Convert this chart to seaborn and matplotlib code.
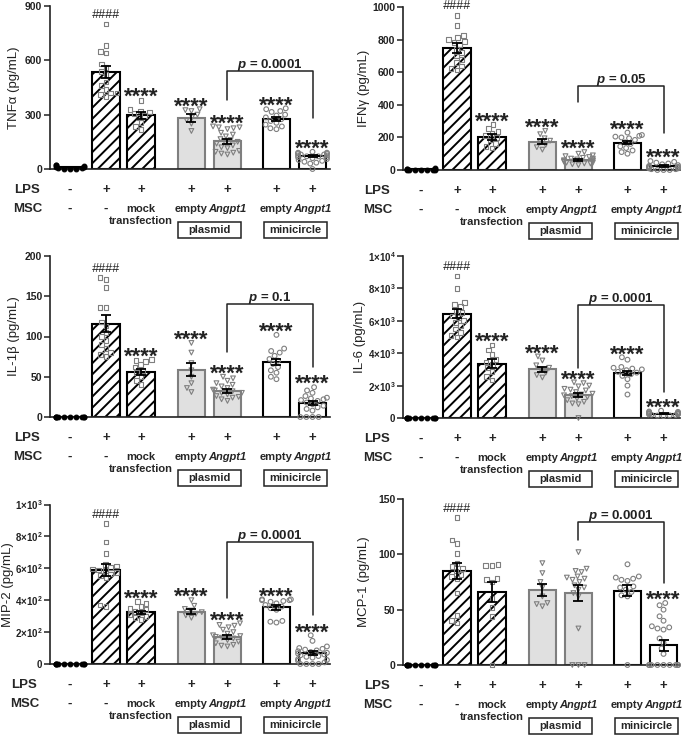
import numpy as np
import pandas as pd
import matplotlib
matplotlib.use("Agg")
import matplotlib.pyplot as plt
import matplotlib.transforms as mtransforms
from matplotlib.patches import Rectangle
import seaborn as sns

# groups: control, LPS, mock, plasmid empty/Angpt1, minicircle empty/Angpt1
group_pos = [0, 1.03, 2.03, 3.47, 4.5, 5.9, 6.93]
lps_labels = ['-', '+', '+', '+', '+', '+', '+']
msc_labels = ['-', '-', 'mock', 'empty', 'Angpt1', 'empty', 'Angpt1']
sig_main = ['', '####', '****', '****', '****', '****', '****']
sig_mcp1 = ['', '####', '', '', '', '', '****']

# TNFa
tnf_mean = [9, 533, 296, 281, 152, 276, 70]
tnf_sem = [0, 33, 20, 20, 12, 10, 6]
tnf_pts = [
    [20, 15, 10, 5, 2, 0, 2, 6, 12, 20],
    [800, 680, 650, 640, 580, 560, 540, 520, 480, 460, 440, 420, 420, 410, 400],
    [380, 330, 320, 315, 305, 295, 285, 255, 235, 220],
    [330, 325, 320, 300, 285, 270, 250, 210],
    [235, 230, 230, 225, 220, 200, 190, 180, 165, 160, 150, 145, 140, 130, 120, 115, 100, 95, 90, 85, 80],
    [335, 330, 320, 315, 300, 295, 285, 275, 265, 255, 245, 235, 225, 220],
    [95, 90, 90, 85, 85, 80, 80, 75, 75, 70, 70, 65, 65, 60, 55, 50, 45, 40, 35, 30, 0],
]

# IFNg
ifn_mean = [4, 748, 201, 174, 61, 168, 25]
ifn_sem = [0, 30, 18, 15, 5, 10, 4]
ifn_pts = [
    [10, 5, 3, 0, 0, 0, 0, 0, 3, 5, 8],
    [950, 890, 825, 815, 800, 790, 785, 770, 740, 720, 700, 680, 660, 640, 625, 615],
    [280, 255, 235, 225, 210, 200, 185, 165, 145, 135],
    [240, 220, 195, 180, 170, 155, 140, 125],
    [110, 100, 90, 85, 80, 75, 70, 70, 65, 60, 60, 55, 55, 50, 45, 45, 40, 40, 35, 30],
    [230, 215, 210, 205, 200, 195, 185, 170, 160, 145, 135, 120, 110, 100],
    [55, 50, 45, 40, 35, 30, 25, 20, 20, 15, 15, 10, 10, 5, 5, 0, 0, 0],
]

# IL-1b
il1b_mean = [0, 116, 56, 59, 32, 68, 17]
il1b_sem = [0, 11, 4, 8, 2.5, 4, 2.5]
il1b_pts = [
    [0, 0, 0, 0, 0, 0, 0, 0, 0, 0],
    [173, 171, 161, 136, 136, 118, 113, 105, 100, 95, 90, 85, 80, 78, 75],
    [71, 70, 69, 65, 62, 58, 55, 50, 45, 40],
    [92, 80, 67, 58, 50, 42, 36, 31],
    [50, 48, 45, 42, 40, 38, 36, 34, 33, 32, 30, 30, 28, 26, 25, 24, 22, 20],
    [102, 85, 82, 80, 76, 72, 70, 66, 62, 58, 55, 50, 47],
    [37, 33, 30, 26, 24, 23, 22, 21, 20, 18, 16, 14, 12, 10, 8, 0, 0, 0, 0],
]

# IL-6
il6_mean = [0, 6450, 3360, 3010, 1440, 2780, 270]
il6_sem = [0, 300, 300, 150, 130, 150, 30]
il6_pts = [
    [0, 0, 0, 0, 0, 0, 0, 0, 0, 0],
    [8760, 8000, 7140, 7000, 6870, 6600, 6500, 6300, 6200, 6000, 5900, 5700, 5500, 5300, 5100, 5000],
    [4500, 4200, 3900, 3600, 3450, 3300, 3100, 2850, 2550, 2350],
    [3800, 3550, 3250, 3100, 3000, 2800, 2650, 2500],
    [2200, 2150, 2000, 1950, 1800, 1750, 1700, 1600, 1500, 1450, 1400, 1350, 1300, 1200, 1100, 1000, 900, 850, 0],
    [3750, 3600, 3150, 3100, 3050, 3000, 2950, 2850, 2800, 2700, 2600, 2400, 2000, 1450],
    [450, 400, 380, 350, 330, 300, 280, 260, 250, 230, 220, 200, 180, 160, 150, 120],
]

# MIP-2
mip2_mean = [0, 590, 323, 327, 169, 356, 69]
mip2_sem = [0, 37, 12, 15, 12, 15, 12]
mip2_pts = [
    [0, 0, 0, 0, 0, 0, 0, 0, 0, 0],
    [880, 765, 695, 625, 615, 605, 595, 590, 585, 575, 565, 555, 540, 370, 360],
    [390, 380, 360, 350, 340, 330, 320, 310, 300, 290, 280],
    [400, 365, 345, 335, 325, 315, 305, 290],
    [255, 245, 240, 230, 215, 200, 190, 180, 175, 170, 165, 160, 150, 140, 130, 120, 115, 110],
    [405, 405, 400, 400, 395, 390, 380, 370, 360, 350, 340, 270, 265, 260],
    [180, 145, 110, 100, 95, 90, 85, 80, 75, 70, 65, 60, 55, 50, 45, 40, 30, 25, 20, 10, 0, 0, 0, 0],
]

# MCP-1
mcp1_mean = [0, 85, 66, 68, 65, 67, 18]
mcp1_sem = [0, 7, 9, 5.5, 7, 5, 5]
mcp1_pts = [
    [0, 0, 0, 0, 0, 0, 0, 0, 0, 0],
    [133, 113, 110, 101, 92, 89, 87, 85, 82, 80, 78, 65, 45, 40, 38],
    [91, 90, 90, 78, 77, 75, 60, 52, 44, 0],
    [92, 83, 75, 70, 62, 56, 55, 53],
    [102, 87, 85, 84, 80, 79, 78, 77, 75, 72, 70, 68, 65, 62, 33, 0, 0, 0],
    [91, 80, 79, 78, 77, 76, 71, 70, 68, 66, 63, 62, 0],
    [56, 54, 50, 44, 40, 35, 34, 33, 32, 24, 20, 15, 10, 0, 0, 0, 0, 0, 0, 0, 0, 0],
]

sns.set_style('ticks')
plt.rcParams['font.family'] = ['Liberation Sans', 'DejaVu Sans']
plt.rcParams['font.weight'] = 'bold'
plt.rcParams['mathtext.fontset'] = 'custom'
plt.rcParams['mathtext.rm'] = 'Liberation Sans:bold'
plt.rcParams['mathtext.it'] = 'Liberation Sans:italic:bold'
plt.rcParams['hatch.linewidth'] = 1.4
plt.rcParams['hatch.color'] = 'black'

INK = '#222222'
GRAY = '#7f7f7f'

fig = plt.figure(figsize=(6.85, 7.36), dpi=100)


def add_ax(left, top, right, bottom):
    # pixel box -> figure fraction
    return fig.add_axes([left / 685, 1 - bottom / 736, (right - left) / 685, (bottom - top) / 736])


def off(base, dx=0, dy=0):
    return mtransforms.offset_copy(base, fig=fig, x=dx, y=dy, units='dots')


def draw_panel(ax, pts, means, sems, ylabel, yticks, yticklabels, sig, pval, bracket, xlim,
               lx, ylx, tick_fs=7.5):
    bars = pd.DataFrame({'pos': group_pos, 'mean': means})
    sns.barplot(data=bars, x='pos', y='mean', native_scale=True, width=0.78,
                errorbar=None, color='white', ax=ax)
    styles = [('black', 'black', ''), ('white', 'black', '///'), ('white', 'black', '///'),
              ('#e0e0e0', GRAY, ''), ('#e0e0e0', GRAY, ''), ('white', 'black', ''), ('white', 'black', '')]
    for patch, (fc, ec, hatch) in zip(ax.patches[:7], styles):
        patch.set_facecolor(fc)
        patch.set_edgecolor(ec)
        patch.set_hatch(hatch)
        patch.set_linewidth(1.5)

    marker_sets = [([0], 'o', 'black', 'black'), ([1, 2], 's', 'none', GRAY),
                   ([3, 4], 'v', 'none', GRAY), ([5, 6], 'o', 'none', GRAY)]
    for idx, marker, fc, ec in marker_sets:
        df = pd.DataFrame({
            'pos': np.repeat([group_pos[i] for i in idx], [len(pts[i]) for i in idx]),
            'val': np.concatenate([pts[i] for i in idx]).astype(float),
        })
        sns.swarmplot(data=df, x='pos', y='val', native_scale=True, marker=marker, size=3.4,
                      color=ec, facecolor=fc, edgecolor=ec, linewidth=0.8, ax=ax,
                      zorder=3, clip_on=False, warn_thresh=1.0)

    for i in range(1, 7):
        ax.errorbar(group_pos[i], means[i], yerr=sems[i], fmt='none', ecolor='black',
                    elinewidth=1.3, capsize=3.5, capthick=1.3, zorder=5)

    for i, s in enumerate(sig):
        if not s:
            continue
        top = max(pts[i])
        if s.startswith('#'):
            ax.text(group_pos[i], top, s, transform=off(ax.transData, 0, 6), ha='center',
                    va='baseline', fontsize=9, fontweight='normal', fontstyle='italic', color=INK)
        else:
            ax.text(group_pos[i], top, s, transform=off(ax.transData, 0, -3), ha='center',
                    va='baseline', fontsize=16, color=INK)

    b_top, b_left, b_right = bracket
    x4, x6 = group_pos[4], group_pos[6]
    ax.plot([x4, x4, x6, x6], [b_left, b_top, b_top, b_right], color=INK, lw=1.1, clip_on=False)
    ax.text((x4 + x6) / 2, b_top, r'$\mathit{p}$ = ' + pval, transform=off(ax.transData, 0, 3),
            ha='center', va='baseline', fontsize=9.5, color=INK)

    ax.set_xlim(*xlim)
    ax.set_ylim(0, yticks[-1])
    ax.set_yticks(yticks)
    ax.set_yticklabels(yticklabels)
    ax.set_xticks([])
    ax.set_xlabel('')
    ax.set_ylabel(ylabel, fontsize=9.5, color=INK)
    axw = ax.bbox.width
    axh = ax.bbox.height
    ax.yaxis.set_label_coords(ylx / axw, 0.5)
    sns.despine(ax=ax)
    for s in ['left', 'bottom']:
        ax.spines[s].set_color(INK)
        ax.spines[s].set_linewidth(1.2)
    ax.tick_params(axis='y', length=4, width=1.1, color=INK, labelsize=tick_fs, pad=1.5, labelcolor=INK)

    below = mtransforms.blended_transform_factory(ax.transData, ax.transAxes)
    ax.text(0, 0, 'LPS', transform=off(ax.transAxes, lx + 1, -21), ha='left', va='center', fontsize=9.5)
    ax.text(0, 0, 'MSC', transform=off(ax.transAxes, lx, -40), ha='left', va='center', fontsize=9.5)
    for x, l, m in zip(group_pos, lps_labels, msc_labels):
        ax.text(x, 0, l, transform=off(below, 0, -21), ha='center', va='center', fontsize=9.5)
        if m == '-':
            ax.text(x, 0, m, transform=off(below, 0, -40), ha='center', va='center', fontsize=9.5)
        elif m == 'mock':
            ax.text(x, 0, 'mock', transform=off(below, 0, -40), ha='center', va='center', fontsize=8)
            ax.text(x, 0, 'transfection', transform=off(below, 0, -52), ha='center', va='center', fontsize=8)
        else:
            ax.text(x, 0, m, transform=off(below, 0, -40), ha='center', va='center', fontsize=8,
                    fontstyle='italic' if m == 'Angpt1' else 'normal')
    for (x0, x1), name in zip([(3.09, 4.9), (5.55, 7.33)], ['plasmid', 'minicircle']):
        ax.add_patch(Rectangle((x0, 0), x1 - x0, 16 / axh, transform=off(below, 0, -69),
                               fill=False, ec=INK, lw=1.1, clip_on=False))
        ax.text((x0 + x1) / 2, 0, name, transform=off(below, 0, -61), ha='center',
                va='center', fontsize=8)


left_x = (-0.57, 7.43)
right_x = (-0.51, 7.40)

ax = add_ax(50, 6, 330, 169)
draw_panel(ax, tnf_pts, tnf_mean, tnf_sem, 'TNFα (pg/mL)', [0, 300, 600, 900],
           ['0', '300', '600', '900'], sig_main, '0.0001', (541, 381, 282), left_x, -37, -30)

ax = add_ax(403, 7.3, 680, 170)
draw_panel(ax, ifn_pts, ifn_mean, ifn_sem, 'IFNγ (pg/mL)', [0, 200, 400, 600, 800, 1000],
           ['0', '200', '400', '600', '800', '1000'], sig_main, '0.05', (516, 418, 227), right_x, -40, -33)

ax = add_ax(50, 256, 330, 417)
draw_panel(ax, il1b_pts, il1b_mean, il1b_sem, 'IL-1β (pg/mL)', [0, 50, 100, 150, 200],
           ['0', '50', '100', '150', '200'], sig_main, '0.1', (140, 81, 62), left_x, -37, -30)

ax = add_ax(403, 256, 680, 418)
draw_panel(ax, il6_pts, il6_mean, il6_sem, 'IL-6 (pg/mL)', [0, 2000, 4000, 6000, 8000, 10000],
           ['0', '2×10$^3$', '4×10$^3$', '6×10$^3$', '8×10$^3$', '1×10$^4$'],
           sig_main, '0.0001', (6975, 3086, 1605), right_x, -40, -37, tick_fs=7)

ax = add_ax(50, 504.5, 330, 664)
draw_panel(ax, mip2_pts, mip2_mean, mip2_sem, 'MIP-2 (pg/mL)', [0, 200, 400, 600, 800, 1000],
           ['0', '2×10$^2$', '4×10$^2$', '6×10$^2$', '8×10$^2$', '1×10$^3$'],
           sig_main, '0.0001', (765, 414, 307), left_x, -40, -36, tick_fs=7)

ax = add_ax(403, 499, 680, 665)
draw_panel(ax, mcp1_pts, mcp1_mean, mcp1_sem, 'MCP-1 (pg/mL)', [0, 50, 100, 150],
           ['0', '50', '100', '150'], sig_mcp1, '0.0001', (129, 113, 74), right_x, -40, -33)

fig.savefig('out.png', dpi=100, facecolor='white')
